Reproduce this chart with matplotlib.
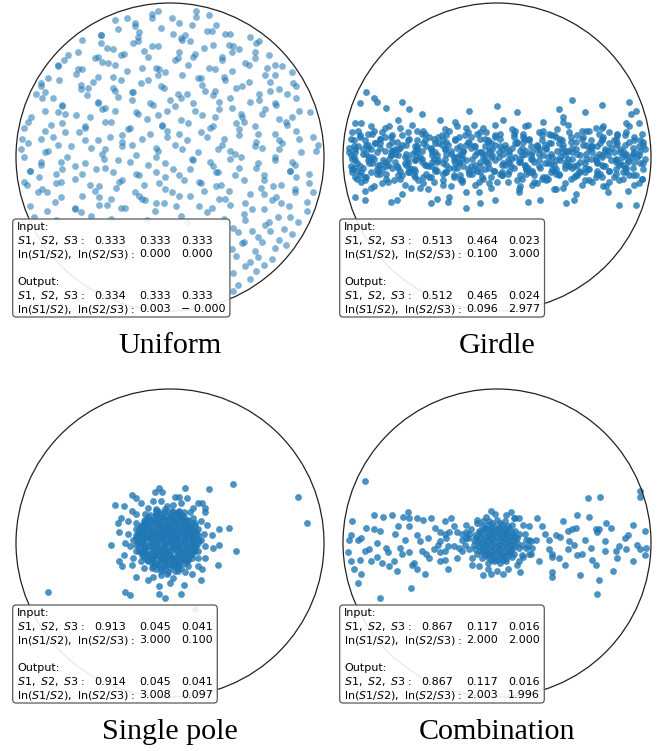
import numpy as np
import matplotlib.pyplot as plt
from matplotlib.patches import Circle, FancyBboxPatch
from matplotlib.transforms import IdentityTransform

W, H = 667, 751

titles = ["Uniform", "Girdle", "Single pole", "Combination"]
input_s = [(0.333, 0.333, 0.333), (0.513, 0.464, 0.023), (0.913, 0.045, 0.041), (0.867, 0.117, 0.016)]
input_ln = [(0.000, 0.000), (0.100, 3.000), (3.000, 0.100), (2.000, 2.000)]
output_s = [(0.334, 0.333, 0.333), (0.512, 0.465, 0.024), (0.914, 0.045, 0.041), (0.867, 0.117, 0.016)]
output_ln = [(0.003, -0.0), (0.096, 2.977), (3.008, 0.097), (2.003, 1.996)]

# projected points, in hundredths of the net radius (x, y, x, y, ...)
uniform_xy = [
    -28,90, -23,87, -12,93, -8,95, 1,90, 14,86, 17,95, 25,92,
    -45,79, -36,89, -23,85, -20,81, -12,90, -6,84, 6,87, 10,79, 17,91, 27,82, 30,86, 39,80,
    -57,76, -45,79, -41,71, -34,83, -24,74, -21,78, -12,72, 2,80, 7,77, 13,75, 24,82, 28,73,
    36,80, 41,72, 52,78, 56,74,
    -66,66, -60,68, -49,64, -45,74, -37,70, -32,66, -21,75, -17,69, -8,72, 5,64, 8,76, 16,67,
    22,71, 34,65, 38,73, 45,70, 55,68, 58,75, 64,66,
    -73,59, -69,63, -60,57, -47,65, -44,62, -36,60, -30,67, -18,58, -14,65, -7,57, 3,63, 6,68,
    15,65, 29,57, 34,63, 40,68, 51,60, 55,64, 63,58, 68,60,
    -79,51, -73,60, -61,54, -57,57, -50,49, -40,61, -37,52, -28,56, -14,50, -9,58, -3,55, 8,53,
    12,60, 20,51, 25,58, 36,50, 40,56, 49,61, 62,53, 65,49, 73,59, 79,55,
    -84,48, -81,42, -72,50, -58,47, -53,45, -47,52, -36,43, -32,50, -24,42, -19,48, -8,53, -4,45,
    5,41, 18,51, 21,47, 29,43, 35,52, 47,46, 51,49, 58,41, 68,53, 71,44, 80,48,
    -87,41, -84,46, -76,38, -70,34, -58,44, -54,40, -47,36, -37,45, -34,39, -25,42, -11,34, -6,46,
    0,37, 11,41, 15,35, 23,43, 28,40, 39,38, 43,45, 52,36, 65,43, 68,35, 76,41, 82,46,
    -90,26, -83,38, -73,29, -70,33, -61,27, -47,35, -42,32, -36,30, -25,37, -21,28, -13,35, -8,27,
    3,33, 7,38, 16,30, 29,26, 32,36, 40,32, 46,28, 58,37, 62,31, 69,34, 79,26, 82,38, 91,29,
    -92,23, -81,30, -77,21, -68,28, -55,20, -52,26, -44,31, -38,23, -26,19, -22,29, -15,25, -5,21,
    -2,30, 7,24, 21,27, 26,19, 32,31, 43,22, 47,26, 55,20, 60,28, 71,25, 75,23, 84,30,
    -95,19, -81,17, -76,13, -70,22, -59,16, -55,19, -47,11, -42,23, -31,14, -27,18, -18,12, -5,20,
    -2,17, 6,15, 12,22, 24,13, 28,20, 35,12, 45,18, 48,23, 57,15, 71,11, 76,21, 82,17, 93,13,
    -96,12, -92,9, -84,12, -79,4, -68,16, -64,7, -55,11, -42,5, -39,13, -31,10, -25,8, -13,15,
    -9,6, -2,13, 8,5, 11,11, 20,16, 34,8, 39,4, 45,14, 56,10, 60,6, 68,15, 73,9, 84,12, 95,4,
    -97,5, -84,-3, -81,3, -73,8, -67,0, -55,-4, -51,6, -44,2, -34,-2, -31,7, -22,1, -8,4,
    -3,-4, 3,8, 14,-1, 18,3, 26,-3, 31,5, 42,2, 46,0, 55,7, 68,-2, 71,5, 79,-3, 85,3, 96,8,
    -95,0, -91,-9, -84,-5, -74,-11, -71,-3, -62,-6, -48,-8, -43,-1, -37,-10, -26,-3, -22,-11, -14,-5,
    -9,0, 2,-8, 6,-12, 15,-2, 28,-6, 31,-10, 39,-1, 45,-7, 57,-4, 61,-12, 68,0, 78,-9, 81,-5, 90,-11,
    -95,-16, -91,-9, -85,-13, -74,-17, -70,-8, -62,-14, -57,-11, -46,-19, -42,-7, -33,-16, -20,-12, -17,-18,
    -9,-10, -3,-13, 9,-15, 13,-8, 20,-17, 30,-10, 33,-18, 42,-12, 56,-7, 61,-15, 67,-19, 78,-9, 82,-13, 90,-17,
    -93,-18, -83,-21, -80,-23, -71,-16, -57,-25, -52,-18, -46,-26, -35,-20, -31,-15, -23,-23, -18,-27, -7,-17,
    -3,-21, 6,-25, 19,-16, 22,-22, 30,-19, 36,-27, 48,-15, 52,-24, 59,-20, 69,-26, 72,-18, 81,-21, 93,-23,
    -91,-32, -86,-23, -75,-29, -71,-26, -62,-34, -49,-22, -46,-31, -38,-27, -32,-33, -20,-25, -16,-28, -9,-30,
    1,-23, 4,-32, 13,-25, 27,-33, 32,-27, 38,-22, 49,-30, 53,-34, 61,-24, 66,-28, 77,-32, 81,-23, 89,-29,
    -88,-39, -80,-35, -74,-41, -62,-33, -58,-36, -51,-38, -41,-31, -38,-40, -29,-33, -15,-41, -10,-35, -4,-30,
    7,-38, 11,-42, 19,-32, 24,-36, 35,-40, 39,-31, 48,-37, 61,-34, 64,-42, 72,-30, 78,-39, 89,-35,
    41,-46, 49,-41, 53,-48, 62,-44, 70,-39, 74,-47, 83,-42,
    44,-49, 48,-55, 57,-52, 65,-48, 71,-54, 79,-50,
    40,-60, 47,-56, 55,-61, 60,-55, 68,-59, 75,-57,
    43,-64, 52,-68, 57,-65, 66,-66,
    41,-75, 49,-71, 56,-74, 61,-70,
    44,-83, 52,-79,
    41,-87,
]

girdle_xy = [
    -96,3, -93,0, -87,5, -85,2, -80,-1, -73,4, -69,1, -66,5, -60,0, -55,2, -53,4, -49,-1, -42,3,
    -39,1, -34,5, -28,0, -24,2, -22,4, -16,-1, -11,3, -8,1, -5,3, 1,0, 3,5, 8,2, 15,-1, 19,4,
    22,1, 28,5, 33,0, 35,2, 39,4, 46,-1, 49,3, 54,1, 60,5, 64,0, 66,2, 72,4, 77,-1, 80,3, 83,1,
    89,3, 91,0, 96,5,
    -95,1, -91,-4, -84,-2, -81,0, -76,-5, -70,-1, -66,-3, -64,1, -58,-4, -53,-2, -50,0, -47,-5,
    -41,-1, -39,-3, -34,-1, -27,-4, -23,1, -20,-2, -14,-5, -9,0, -7,-3, -3,1, 4,-4, 7,-2, 12,0,
    18,-5, 22,-1, 24,-3, 30,1, 35,-4, 38,-2, 41,0, 47,-5, 49,-1, 54,-3, 61,-1, 65,-4, 68,1,
    74,-2, 79,-5, 81,0, 85,-3, 92,1, 95,-4,
    -96,6, -92,3, -85,8, -82,5, -76,9, -68,4, -63,6, -59,8, -52,3, -46,7, -43,5, -38,9, -30,4,
    -26,6, -20,8, -13,3, -8,7, -5,5, 2,7, 8,4, 12,9, 16,6, 23,3, 26,8, 32,5, 40,9, 45,4, 49,6,
    56,8, 62,3, 65,7, 70,5, 78,9, 82,4, 88,6, 95,8,
    -94,-8, -89,-6, -81,-4, -77,-9, -71,-5, -64,-7, -59,-5, -56,-8, -49,-3, -43,-6, -39,-9, -35,-4,
    -28,-7, -25,-3, -19,-8, -11,-6, -6,-4, -2,-9, 5,-5, 11,-7, 14,-3, 19,-8, 27,-6, 31,-4, 37,-9,
    44,-5, 49,-7, 52,-5, 59,-8, 65,-3, 69,-6, 73,-9, 80,-4, 83,-7, 89,-3, 95,-8,
    -95,12, -90,7, -86,11, -79,9, -73,13, -70,8, -65,10, -57,12, -53,7, -47,11, -40,9, -35,11,
    -32,8, -25,13, -19,10, -15,7, -11,12, -4,9, -1,13, 5,8, 13,10, 18,12, 22,7, 29,11, 35,9,
    38,13, 43,8, 51,10, 55,12, 61,7, 68,11, 73,9, 76,11, 83,8, 89,13, 95,10,
    -93,-7, -88,-10, -85,-13, -78,-8, -72,-11, -68,-7, -64,-12, -57,-10, -54,-8, -48,-13, -40,-9,
    -35,-11, -31,-7, -24,-12, -18,-10, -15,-8, -10,-13, -2,-9, 2,-11, 8,-9, 15,-12, 20,-7, 23,-10,
    30,-13, 36,-8, 40,-11, 44,-7, 51,-12, 54,-10, 60,-8, 68,-13, 73,-9, 77,-11, 84,-7, 90,-12,
    -94,16, -89,13, -80,17, -76,12, -68,14, -58,16, -52,11, -47,15, -38,13, -31,17, -27,12, -21,14,
    -11,16, -6,11, 2,15, 11,13, 17,15, 21,12, 30,17, 37,14, 42,11, 47,16, 56,13, 60,17, 68,12,
    78,14, 84,16, 89,11, 94,15,
    -92,-13, -86,-15, -76,-11, -71,-16, -63,-14, -54,-12, -48,-17, -44,-13, -35,-15, -28,-13,
    -23,-16, -18,-11, -9,-14, -5,-17, 3,-12, 13,-15, 19,-11, 24,-16, 33,-14, 40,-12, 44,-17,
    50,-13, 60,-15, 65,-11, 73,-16, 82,-14, 88,-12, 92,-17,
    -92,22, -84,15, -70,20, -64,24, -52,17, -36,14, -27,23, -20,19, -7,16, 4,24, 10,18, 20,21,
    35,14, 43,23, 55,17, 69,20, 78,15, 84,22, 92,22,
    -91,-14, -82,-20, -75,-17, -62,-24, -51,-15, -45,-21, -35,-18, -20,-23, -12,-16, 0,-16,
    14,-23, 23,-18, 29,-14, 37,-21, 51,-24, 57,-15, 69,-19, 85,-22, 94,-14,
    -88,22, -73,19, -49,28, -37,24, -15,21, 13,29, 30,23, 43,26, 68,19, 87,28,
    -86,-22, -69,-29, -56,-20, -31,-26, -12,-23, -1,-28, 14,-21, 38,-21, 50,-28, 72,-23,
    -94,-1, -87,2, -83,0, -74,-2, -69,1, -66,2, -58,-1, -52,0, -42,1, -38,-2, -33,2, -26,0,
    -23,-1, -14,1, -8,-2, -4,0, 4,2, 9,-1, 16,1, 23,-1, 27,2, 36,0, 41,-2, 44,1, 52,2, 58,-1,
    68,0, 72,1, 77,-2, 84,2, 87,0, 96,-1,
    -92,5, -84,6, -78,3, -68,4, -64,5, -59,2, -52,6, -49,4, -40,3, -34,5, -30,2, -22,4, -17,6,
    -10,3, -3,5, 1,3, 10,6, 15,4, 18,2, 26,5, 32,6, 42,3, 46,4, 51,5, 58,2, 61,6, 70,4, 76,3,
    80,5, 88,2, 93,4,
    -95,-6, -92,-2, -83,-4, -77,-5, -73,-3, -65,-6, -60,-4, -53,-2, -46,-5, -42,-3, -33,-5, -28,-2,
    -25,-4, -17,-6, -11,-3, -1,-2, 3,-5, 8,-4, 15,-3, 18,-6, 27,-2, 33,-4, 37,-5, 45,-3, 50,-6,
    57,-4, 64,-2, 68,-5, 77,-3, 82,-5, 85,-2, 93,-4,
    -93,7, -84,8, -79,9, -76,6, -68,10, -62,8, -52,7, -48,9, -43,6, -36,8, -33,10, -24,7, -18,9,
    -14,7, -6,10, -1,8, 6,6, 13,9, 17,10, 26,7, 31,8, 34,9, 42,6, 48,10, 58,8, 62,7, 67,9, 74,6,
    77,8, 86,10, 92,7,
    -91,-9, -87,-7, -82,-10, -75,-8, -72,-6, -63,-9, -57,-7, -53,-9, -45,-6, -40,-8, -33,-10,
    -26,-7, -22,-6, -13,-9, -8,-8, -5,-7, 3,-10, 9,-6, 19,-8, 23,-9, 28,-7, 35,-10, 38,-8, 47,-6,
    53,-9, 57,-7, 65,-9, 70,-6, 77,-8, 84,-10, 88,-7,
    -93,11, -89,14, -81,15, -76,12, -69,13, -62,14, -58,11, -49,15, -44,13, -41,12, -33,14, -27,11,
    -17,13, -13,15, -8,12, -1,14, 2,12, 11,15, 17,13, 21,11, 29,14, 34,15, 41,12, 48,13, 52,14,
    61,11, 66,15, 69,13, 77,12, 83,14, 93,11,
    -94,-10, -89,-12, -86,-13, -78,-11, -72,-14, -62,-12, -58,-10, -53,-13, -46,-11, -43,-13,
    -34,-10, -28,-12, -24,-14, -16,-11, -11,-10, -4,-13, 3,-12, 7,-11, 16,-14, 21,-10, 24,-12,
    32,-13, 38,-11, 48,-14, 52,-12, 57,-10, 64,-13, 67,-11, 76,-13, 82,-10, 86,-12, 94,-14,
    -90,17, -82,20, -75,16, -63,19, -55,21, -48,17, -34,18, -26,20, -19,16, -9,19, -1,21, 12,17,
    18,20, 27,16, 39,18, 46,21, 58,17, 64,19, 73,16, 86,20,
    -88,-16, -80,-19, -67,-15, -60,-18, -50,-20, -41,-16, -30,-19, -23,-15, -14,-18, -4,-20,
    7,-16, 15,-19, 26,-17, 32,-15, 43,-20, 55,-18, 62,-16, 71,-19, 79,-15, 89,-18,
    # stragglers off the band
    -85,42, -80,38, -78,36, -89,35, -72,32, -62,36, -57,31, -18,30, 0,33,
    49,37, 68,34, 86,36, 90,30, 57,29, 40,31,
    -43,-30, -39,-27, -32,-29, -11,-30, 90,-31, -86,-28, -92,-26, -65,-28,
    -20,-33, 28,-28, 45,-30, 79,-31, 20,-29,
]

pole_xy = [
    # dense core
    -8,21, -3,22, 2,20, 6,21,
    -13,18, -9,19, -4,17, 0,18, 5,19, 9,17,
    -16,15, -12,14, -7,16, -2,15, 3,14, 8,16, 12,15,
    -18,12, -14,11, -9,13, -5,12, 0,11, 4,13, 9,12, 13,11, 16,13,
    -20,9, -15,10, -11,8, -6,9, -2,10, 3,8, 7,9, 11,10, 15,8,
    -21,6, -17,5, -12,7, -8,6, -3,5, 1,7, 5,6, 10,5, 14,7, 17,6,
    -22,3, -18,2, -13,4, -9,3, -4,2, 0,4, 4,3, 9,2, 13,4, 17,3,
    -21,0, -17,-1, -12,1, -7,0, -3,-1, 2,1, 6,0, 11,-1, 15,1, 18,0,
    -20,-3, -16,-4, -11,-2, -6,-3, -2,-4, 3,-2, 7,-3, 12,-4, 16,-2,
    -19,-6, -14,-7, -10,-5, -5,-6, -1,-7, 4,-5, 8,-6, 13,-7, 16,-5,
    -17,-9, -12,-10, -8,-8, -3,-9, 2,-10, 6,-8, 11,-9, 14,-10,
    -14,-12, -10,-13, -5,-11, -1,-12, 4,-13, 8,-11, 11,-12,
    -11,-15, -6,-16, -2,-14, 3,-15, 7,-16,
    -6,-18, -1,-19, 3,-18,
    -10,16, -5,17, 1,16, 6,17,
    -16,13, -11,14, -7,13, -2,13, 2,14, 7,13, 11,14,
    -17,10, -13,11, -8,11, -4,10, 1,10, 5,11, 9,10, 13,11,
    -19,8, -14,8, -10,7, -5,8, -1,7, 3,6, 8,7, 12,8,
    -20,5, -15,4, -11,5, -6,4, -2,5, 2,4, 7,4, 11,5, 15,4,
    -19,1, -15,2, -10,1, -5,2, 0,1, 4,2, 9,1, 13,2,
    -18,-1, -14,-2, -9,-1, -4,-2, 1,-1, 5,-2, 10,-1, 14,-2,
    -17,-5, -12,-4, -7,-5, -3,-5, 1,-4, 6,-4, 10,-5, 15,-4,
    -15,-8, -10,-8, -5,-7, 0,-8, 4,-9, 9,-8, 13,-8,
    -12,-11, -7,-11, -3,-11, 2,-11, 6,-12, 10,-11,
    -8,-14, -4,-15, 1,-14, 5,-14,
    -6,19, -1,20, 4,19,
    -14,17, -9,18, -5,16, 0,17, 4,16, 8,18,
    -17,14, -13,15, -8,14, -3,15, 1,13, 6,15, 10,14, 14,13,
    -19,11, -15,12, -10,11, -6,12, -1,11, 3,12, 8,11, 12,12, 16,11,
    -20,7, -16,8, -12,9, -7,8, -3,9, 2,8, 6,9, 10,8, 14,9, 17,8,
    -22,5, -18,6, -13,5, -9,6, -4,5, 0,6, 5,5, 9,6, 13,5, 18,5,
    -21,2, -16,3, -12,2, -7,3, -2,2, 2,3, 6,2, 11,3, 15,2, 19,2,
    -22,-1, -18,0, -13,-1, -9,0, -4,-1, 0,0, 4,-1, 9,0, 13,-1, 17,-2,
    -20,-5, -16,-4, -11,-5, -7,-4, -2,-5, 2,-4, 7,-5, 11,-4, 15,-5,
    -18,-8, -13,-7, -9,-8, -4,-7, 0,-8, 5,-7, 9,-8, 14,-7,
    -15,-11, -11,-10, -6,-11, -2,-10, 3,-11, 7,-10, 12,-11,
    -12,-13, -8,-14, -3,-13, 1,-13, 6,-14, 10,-13,
    -9,-17, -4,-17, 0,-16, 5,-17,
    -9,21, -4,20, 1,21, 5,20,
    # halo
    20,2, 22,6, 18,9, 20,14, 15,16, 13,20, 9,20, 7,26, 2,25, -2,24, -6,27, -9,22,
    -14,23, -16,19, -22,19, -22,13, -22,9, -27,6, -24,2, -26,-2, -22,-5, -24,-10,
    -19,-12, -17,-16, -12,-16, -11,-22, -6,-21, -2,-20, 2,-23, 5,-18, 10,-19, 12,-15,
    18,-15, 18,-10, 18,-5, 23,-2,
    27,5, 24,12, 23,20, 15,23, 11,29, 3,30, -5,33, -11,27, -19,26, -25,21, -27,14,
    -33,7, -29,0, -30,-8, -25,-14, -22,-22, -14,-24, -7,-28, 0,-26, 9,-27, 14,-20,
    21,-17, 23,-10, 28,-3,
    32,9, 23,23, 10,36, -7,36, -25,31, -32,16, -38,-1, -31,-15, -22,29, -7,-33,
    7,-33, 20,-24, 31,-14, 32,-1,
    # outliers
    41,38, 25,35, 83,30, 89,13, -79,-32, 16,-43, 43,-5, 38,10, -36,25, -30,24,
    -34,13, -33,-12, -29,-32, -26,-34, -3,-36, -10,33, 6,30, 18,26, 21,26,
]

combo_xy = [
    # concentrated cluster
    -5,14, 0,15, 5,14,
    -10,11, -6,12, -2,11, 3,12, 7,11, 10,12,
    -12,8, -8,9, -4,8, 0,9, 4,8, 8,9, 12,8,
    -14,5, -10,6, -6,5, -2,6, 2,5, 6,6, 10,5, 14,6,
    -15,2, -11,3, -7,2, -3,3, 1,2, 5,3, 9,2, 13,3,
    -15,-1, -11,0, -7,-1, -3,0, 1,-1, 5,0, 9,-1, 13,0, 16,-1,
    -14,-4, -10,-3, -6,-4, -2,-3, 2,-4, 6,-3, 10,-4, 14,-3,
    -13,-7, -9,-6, -5,-7, -1,-6, 3,-7, 7,-6, 11,-7,
    -10,-10, -6,-9, -2,-10, 2,-9, 6,-10, 10,-9,
    -6,-13, -2,-12, 2,-13, 6,-12,
    -3,13, 2,13, -8,10, -4,10, 1,10, 5,10, -11,7, -6,7, -2,7, 2,7, 6,7, 10,7,
    -13,4, -8,4, -4,4, 0,4, 4,4, 8,4, 12,4, -13,1, -9,1, -5,1, -1,1, 3,1, 7,1, 11,1,
    -12,-2, -8,-2, -4,-2, 0,-2, 4,-2, 8,-2, 12,-2, -11,-5, -7,-5, -3,-5, 1,-5, 5,-5, 9,-5,
    -8,-8, -4,-8, 0,-8, 4,-8, 8,-8, -4,-11, 0,-11, 4,-11,
    18,6, 17,12, 12,16, 6,18, -1,19, -7,17, -13,15, -17,9, -19,3, -18,-4, -16,-10,
    -12,-15, -6,-17, 0,-18, 7,-17, 13,-14, 17,-9, 19,-3, 21,2, -21,-1, -4,21, 9,20,
    15,-19, -9,-21, 22,-7, -20,12, 11,16, 14,16, -4,-20, 4,-20,
    # scattered girdle
    -86,40, -94,14, -95,5, -96,2, -90,2, -88,3, -85,10, -80,9, -80,18, -74,17, -76,8,
    -95,-12, -89,-11, -93,-17, -88,-20, -90,-26, -76,-36, -82,-12, -78,-9, -75,-13,
    -72,-3, -71,-6, -67,-12, -64,11, -66,6, -61,17, -57,16, -58,20, -57,11, -52,16,
    -48,15, -43,16, -50,1, -45,3, -46,-7, -49,-5, -54,-13, -52,-17, -55,-14, -56,-29,
    -63,-3, -62,-7, -57,-6, -37,7, -34,6, -31,7, -37,1, -33,3, -37,-6, -34,-5, -32,-2,
    -37,-12, -34,-11, -32,-17, -38,-1, -34,14, -26,7, -23,6, -20,7, -18,6, -23,2, -20,3,
    -25,-3, -23,-5, -28,-2, -13,13, -9,14,
    21,11, 29,11, 19,2, 22,1, 25,2, 20,-2, 23,-3, 16,-8, 21,-7, 14,-12, 34,2, 34,-4,
    36,-7, 38,5, 41,4, 36,-9, 40,-10, 36,-19, 36,-22, 43,14, 46,8, 49,9, 51,10, 47,1,
    46,-4, 50,-1, 52,-8, 55,-7, 54,-21, 59,29, 67,30, 60,17, 65,7, 66,9, 71,13, 64,9,
    62,-11, 64,-14, 66,-24, 65,-33, 70,-5, 79,-2, 84,-4, 83,3, 85,5, 91,-1, 93,-4,
    96,-8, 96,8, 93,34, 93,30, 97,-3, 77,-5,
    -68,18, -70,-15, -60,2, -83,-4, -78,0, -44,-10, -40,10, -28,11, -26,-10, -16,-14,
    27,-12, 31,6, 44,-14, 57,2, 61,-3, 74,10, 78,-10, 88,12, -97,-6, -86,-5, -65,-18,
    -47,-20, -30,16, 26,16, 52,18, 75,-18, 88,-12, -52,5, -41,-4, 70,1,
]

panel_points = [uniform_xy, girdle_xy, pole_xy, combo_xy]
panel_alpha = [0.55, 0.8, 0.8, 0.8]
centers = [(170, 157), (497, 157), (170, 543), (497, 543)]
R = 154

fig = plt.figure(figsize=(W / 100, H / 100), dpi=100)
px = IdentityTransform()


def fmt(v):
    return f"{v:.3f}".replace("-", "\u2212 ")


label_s = r"$S1,\ S2,\ S3:$"
label_ln = r"$\ln(S1/S2),\ \ln(S2/S3):$"
cols = [76.5, 121.5, 163.5]
step = 13.75

boxes = []
for i, (cx, cy) in enumerate(centers):
    ax = fig.add_axes([(cx - R) / W, 1 - (cy + R) / H, 2 * R / W, 2 * R / H])
    ax.set_xlim(-1, 1)
    ax.set_ylim(-1, 1)
    ax.axis("off")
    pts = np.array(panel_points[i], dtype=float).reshape(-1, 2) / 100
    ax.scatter(pts[:, 0], pts[:, 1], s=24, color="#1f77b4", alpha=panel_alpha[i],
               linewidths=0, zorder=2)
    ax.add_patch(Circle((0, 0), 1, fill=False, ec="#222222", lw=0.9, clip_on=False, zorder=3))

    # info box text
    tx = cx - 152.7
    b0 = cy + 72.8
    rows = [
        ("Input:", None),
        (label_s, input_s[i]),
        (label_ln, (None,) + tuple(input_ln[i])),
        ("Output:", None),
        (label_s, output_s[i]),
        (label_ln, (None,) + tuple(output_ln[i])),
    ]
    line_idx = [0, 1, 2, 4, 5, 6]
    texts = []
    for (lab, vals), li in zip(rows, line_idx):
        yb = H - (b0 + li * step)
        texts.append(fig.text(tx, yb, lab, fontsize=8, va="baseline", ha="left",
                              transform=px, zorder=4))
        if vals is not None:
            for c, v in zip(cols, vals):
                if v is None:
                    continue
                texts.append(fig.text(tx + c, yb, fmt(v), fontsize=8, va="baseline",
                                      ha="left", transform=px, zorder=4))
    boxes.append((tx, b0, texts))

    fig.text(cx, H - (cy + 196), titles[i], fontsize=21.6, family="Liberation Serif",
             ha="center", va="baseline", transform=px)

fig.canvas.draw()
renderer = fig.canvas.get_renderer()
for tx, b0, texts in boxes:
    right = max(t.get_window_extent(renderer).x1 for t in texts)
    left = tx - 4.6
    top = H - (b0 - 10.8)
    bottom = H - (b0 + 6 * step + 4.7)
    fig.add_artist(FancyBboxPatch((left, bottom), right + 4.6 - left, top - bottom,
                                  boxstyle="round,pad=0,rounding_size=3.5",
                                  fc=(1, 1, 1, 0.9), ec="0.35", lw=0.9,
                                  transform=px, zorder=3.5))

fig.savefig("out.png", dpi=100)
